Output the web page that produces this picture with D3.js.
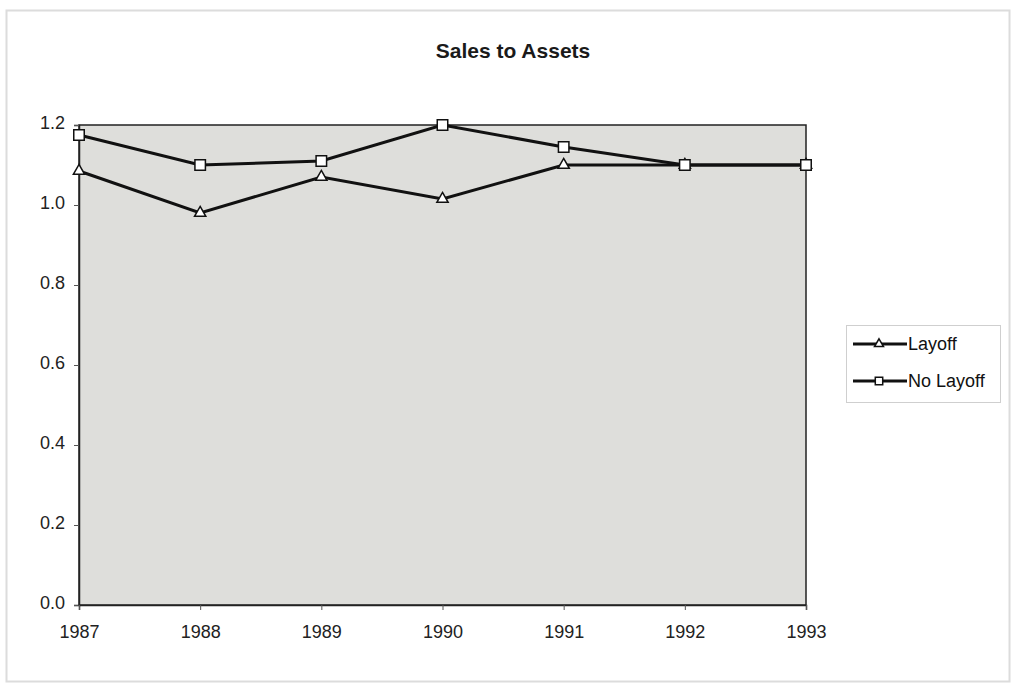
<!DOCTYPE html>
<html>
<head>
<meta charset="utf-8">
<title>Sales to Assets</title>
<script src="https://d3js.org/d3.v7.min.js"></script>
<style>
  body { margin: 0; background: #fff; }
  svg { font-family: "Liberation Sans", Arial, sans-serif; }
</style>
</head>
<body>
<svg id="chart" width="1013" height="683"></svg>
<script>
// data
const years = [1987, 1988, 1989, 1990, 1991, 1992, 1993];
const layoff = [1.085, 0.98, 1.07, 1.015, 1.10, 1.10, 1.10];
const noLayoff = [1.175, 1.10, 1.11, 1.20, 1.145, 1.10, 1.10];
const yTicks = [0, 0.2, 0.4, 0.6, 0.8, 1.0, 1.2];
const seriesNames = ["Layoff", "No Layoff"];

const svg = d3.select("#chart");
const pLeft = 79, pRight = 806, pTop = 125, pBottom = 605;

// outer frame
svg.append("rect")
  .attr("x", 6.5).attr("y", 10.5).attr("width", 1003).attr("height", 671)
  .attr("fill", "none").attr("stroke", "#dcdcdc").attr("stroke-width", 2);

var x = d3.scaleLinear().domain([1987, 1993]).range([pLeft, pRight]);
var y = d3.scaleLinear().domain([0, 1.2]).range([pBottom, pTop]);

// plot area
svg.append("rect")
  .attr("x", pLeft).attr("y", pTop).attr("width", pRight - pLeft).attr("height", pBottom - pTop)
  .attr("fill", "#dededb").attr("stroke", "#222").attr("stroke-width", 1.5);

svg.append("text")
  .attr("x", 513).attr("y", 58)
  .attr("text-anchor", "middle")
  .attr("font-size", 21).attr("font-weight", "bold").attr("fill", "#1a1a1a")
  .text("Sales to Assets");

// axes
var yAxis = svg.append("g")
  .attr("transform", "translate(" + pLeft + ",0)")
  .call(d3.axisLeft(y).tickValues(yTicks).tickFormat(d3.format(".1f")).tickSize(5).tickPadding(9));
var xAxis = svg.append("g")
  .attr("transform", "translate(0," + pBottom + ")")
  .call(d3.axisBottom(x).tickValues(years).tickFormat(d3.format("d")).tickSize(5).tickPadding(15));

[yAxis, xAxis].forEach(function(a) {
  a.select(".domain").attr("stroke", "#222").attr("stroke-width", 1.5);
  a.selectAll(".tick line").attr("stroke", "#555");
  a.selectAll("text").attr("font-size", 18).attr("fill", "#222")
    .attr("font-family", "Liberation Sans, Arial, sans-serif");
});
yAxis.selectAll("text").attr("dy", "0.2em");

var line = d3.line()
  .x(function(d, i) { return x(years[i]); })
  .y(function(d) { return y(d); });

var tri = d3.symbol().type(d3.symbolTriangle).size(55);
var sq = d3.symbol().type(d3.symbolSquare).size(110);

function drawSeries(vals, sym) {
  svg.append("path").datum(vals)
    .attr("d", line).attr("fill", "none")
    .attr("stroke", "#111").attr("stroke-width", 3);
  svg.selectAll(null).data(vals).enter().append("path")
    .attr("d", sym)
    .attr("transform", function(d, i) { return "translate(" + x(years[i]) + "," + y(d) + ")"; })
    .attr("fill", "#fff").attr("stroke", "#111").attr("stroke-width", 1.5);
}
drawSeries(layoff, tri);
drawSeries(noLayoff, sq);

// legend
var lgTri = d3.symbol().type(d3.symbolTriangle).size(35);
var lgSq = d3.symbol().type(d3.symbolSquare).size(55);
var lg = svg.append("g");
lg.append("rect")
  .attr("x", 846.5).attr("y", 325.5).attr("width", 154).attr("height", 77)
  .attr("fill", "#fff").attr("stroke", "#cfcfcf");
[lgTri, lgSq].forEach(function(sym, i) {
  var ly = 344 + i * 37;
  lg.append("line").attr("x1", 853).attr("x2", 907).attr("y1", ly).attr("y2", ly)
    .attr("stroke", "#111").attr("stroke-width", 3);
  lg.append("path").attr("d", sym).attr("transform", "translate(879," + ly + ")")
    .attr("fill", "#fff").attr("stroke", "#111").attr("stroke-width", 1.5);
  lg.append("text").attr("x", 908).attr("y", ly + 6)
    .attr("font-size", 18).attr("fill", "#111")
    .text(seriesNames[i]);
});
</script>
</body>
</html>
